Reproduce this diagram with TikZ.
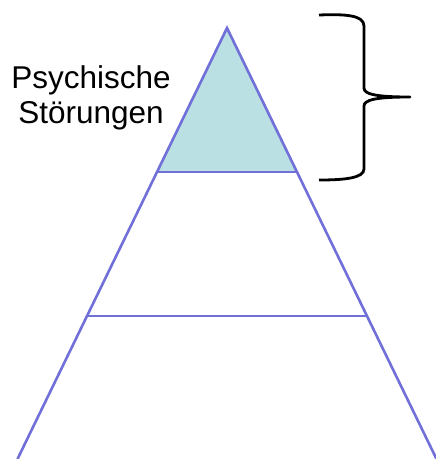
\documentclass[tikz,border=0pt]{standalone}
\usepackage{fontspec}
\setmainfont{Liberation Sans}
\definecolor{pyrline}{RGB}{112,112,216}
\definecolor{pyrfill}{RGB}{187,224,227}
\begin{document}
\begin{tikzpicture}[x=1pt,y=-1pt,
  edge/.style={draw=pyrline,line width=2.6pt},
  bracestyle/.style={draw=black,line width=2.8pt,line join=round},
  label/.style={font=\fontsize{31.5}{35}\selectfont,align=center,inner sep=0pt}]
\useasboundingbox (0,0) rectangle (436,459);
\coordinate (apex) at (227,28);
\coordinate (l1) at (157,172);
\coordinate (r1) at (297,172);
\coordinate (l2) at (87,316);
\coordinate (r2) at (367,316);
\coordinate (l3) at (17.5,459);
\coordinate (r3) at (436.5,459);
\fill[pyrfill] (apex) -- (l1) -- (r1) -- cycle;
\draw[edge] (l3) -- (apex) -- (r3);
\draw[edge] (l1) -- (r1);
\draw[edge] (l2) -- (r2);
\node[label] (txt) at (91,98) {Psychische\\Störungen};
\coordinate (bt) at (319,15);
\coordinate (bb) at (319,180);
\coordinate (tip) at (410,97);
\draw[bracestyle] (bt) .. controls (345,14) and (364,15) .. (364,26)
  -- (364,88) .. controls (364,94) and (375,97) .. (tip)
  .. controls (375,97) and (364,100) .. (364,106)
  -- (364,169) .. controls (364,178) and (345,180) .. (bb);
\end{tikzpicture}
\end{document}
